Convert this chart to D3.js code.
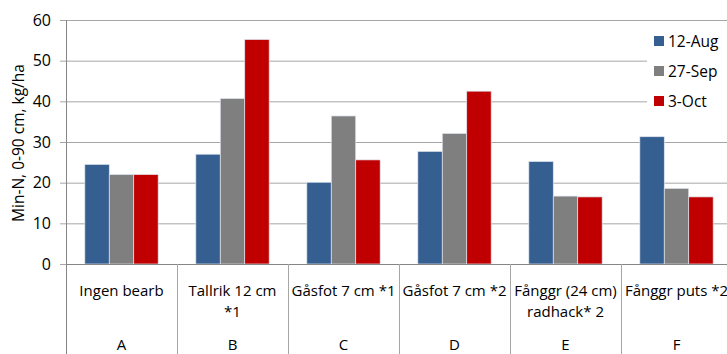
<!DOCTYPE html>
<html>
<head>
<meta charset="utf-8">
<script src="https://cdn.jsdelivr.net/npm/d3@7"></script>
<style>
  body { margin: 0; background: #fff; }
  svg { display: block; font-family: "Open Sans", "Liberation Sans", sans-serif; }
</style>
</head>
<body>
<div id="chart"></div>
<script>
// data
var categories = ["A", "B", "C", "D", "E", "F"];
var treatments = [["Ingen bearb"], ["Tallrik 12 cm", "*1"], ["Gåsfot 7 cm *1"], ["Gåsfot 7 cm *2"],
                  ["Fånggr (24 cm)", "radhack* 2"], ["Fånggr puts *2"]];
var seriesNames = ["12-Aug", "27-Sep", "3-Oct"];
var aug12 = [24.5, 27.0, 20.1, 27.7, 25.2, 31.3];
var sep27 = [22.0, 40.7, 36.4, 32.1, 16.7, 18.6];
var oct3 = [22.0, 55.2, 25.6, 42.5, 16.5, 16.5];
var yTicks = [0, 10, 20, 30, 40, 50, 60];

var colors = ["#365f91", "#7f7f7f", "#c00000"];
var seriesValues = [aug12, sep27, oct3];

var width = 727, height = 354;
var left = 66, plotTop = 20, plotBottom = 264, right = 732;

var svg = d3.select("#chart").append("svg")
    .attr("width", width)
    .attr("height", height);

var x = d3.scaleBand()
    .domain(categories)
    .range([left, right]);

var xInner = d3.scaleBand()
    .domain(seriesNames)
    .range([0, x.bandwidth()])
    .paddingOuter(0.77)
    .paddingInner(0);

var y = d3.scaleLinear()
    .domain([0, 60])
    .range([plotBottom, plotTop]);

// gridlines with little tick stubs to the left
var grid = svg.append("g")
    .attr("transform", "translate(" + left + ",0)")
    .call(d3.axisLeft(y).tickValues(yTicks).tickSize(-(right - left)).tickFormat(""));
grid.select(".domain").remove();
grid.selectAll("line")
    .attr("stroke", "#a6a6a6")
    .attr("x1", -6);

// y tick labels
svg.append("g").selectAll("text")
    .data(yTicks)
    .enter().append("text")
    .attr("x", 51)
    .attr("y", function(d) { return y(d); })
    .attr("dy", "0.36em")
    .attr("text-anchor", "end")
    .style("font-size", "16px")
    .attr("fill", "#000")
    .text(function(d) { return d; });

// y axis title
svg.append("text")
    .attr("transform", "translate(24," + 143 + ") rotate(-90)")
    .attr("text-anchor", "middle")
    .style("font-size", "15.5px")
    .text("Min-N, 0-90 cm, kg/ha");

// bars
var groups = svg.append("g").selectAll("g")
    .data(categories)
    .enter().append("g")
    .attr("transform", function(d) { return "translate(" + x(d) + ",0)"; });

groups.selectAll("rect")
    .data(function(d, i) {
        return seriesNames.map(function(s, j) { return {name: s, value: seriesValues[j][i], k: j}; });
    })
    .enter().append("rect")
    .attr("x", function(d) { return xInner(d.name); })
    .attr("width", xInner.bandwidth())
    .attr("y", function(d) { return y(d.value); })
    .attr("height", function(d) { return y(0) - y(d.value); })
    .attr("fill", function(d) { return colors[d.k]; })
    .attr("stroke", "#dfe6ee")
    .attr("stroke-width", 0.7);

// axes lines
svg.append("line")
    .attr("x1", left).attr("x2", right)
    .attr("y1", plotBottom + 0.5).attr("y2", plotBottom + 0.5)
    .attr("stroke", "#868686");
svg.append("line")
    .attr("x1", left + 0.5).attr("x2", left + 0.5)
    .attr("y1", plotTop).attr("y2", height)
    .attr("stroke", "#868686");

// category dividers down through the label rows
svg.append("g").selectAll("line")
    .data(categories.slice(1))
    .enter().append("line")
    .attr("x1", function(d) { return Math.round(x(d)) + 0.5; })
    .attr("x2", function(d) { return Math.round(x(d)) + 0.5; })
    .attr("y1", plotBottom)
    .attr("y2", height)
    .attr("stroke", "#a6a6a6");

// treatment labels
var labels = svg.append("g").selectAll("text")
    .data(categories)
    .enter().append("text")
    .attr("x", function(d) { return x(d) + x.bandwidth() / 2; })
    .attr("y", 296)
    .attr("text-anchor", "middle")
    .style("font-size", "15px");
labels.selectAll("tspan")
    .data(function(d, i) { return treatments[i]; })
    .enter().append("tspan")
    .attr("x", function() { return d3.select(this.parentNode).attr("x"); })
    .attr("dy", function(d, i) { return i === 0 ? 0 : 21; })
    .text(function(d) { return d; });

// letters row
svg.append("g").selectAll("text")
    .data(categories)
    .enter().append("text")
    .attr("x", function(d) { return x(d) + x.bandwidth() / 2; })
    .attr("y", 350)
    .attr("text-anchor", "middle")
    .style("font-size", "15px")
    .text(function(d) { return d; });

// legend
var legend = svg.append("g").attr("transform", "translate(647,26)");
legend.append("rect")
    .attr("width", 80)
    .attr("height", 90)
    .attr("fill", "#fff");

var item = legend.selectAll(".ledgends")
    .data(seriesNames)
    .enter().append("g")
    .attr("class", "ledgends")
    .attr("transform", function(d, i) { return "translate(0," + (15 + i * 30) + ")"; });

item.append("rect")
    .attr("x", 7)
    .attr("y", -5)
    .attr("width", 10)
    .attr("height", 10)
    .attr("fill", function(d, i) { return colors[i]; });

item.append("text")
    .attr("x", 21)
    .attr("dy", "0.36em")
    .style("font-size", "15.5px")
    .text(function(d) { return d; });
</script>
</body>
</html>
